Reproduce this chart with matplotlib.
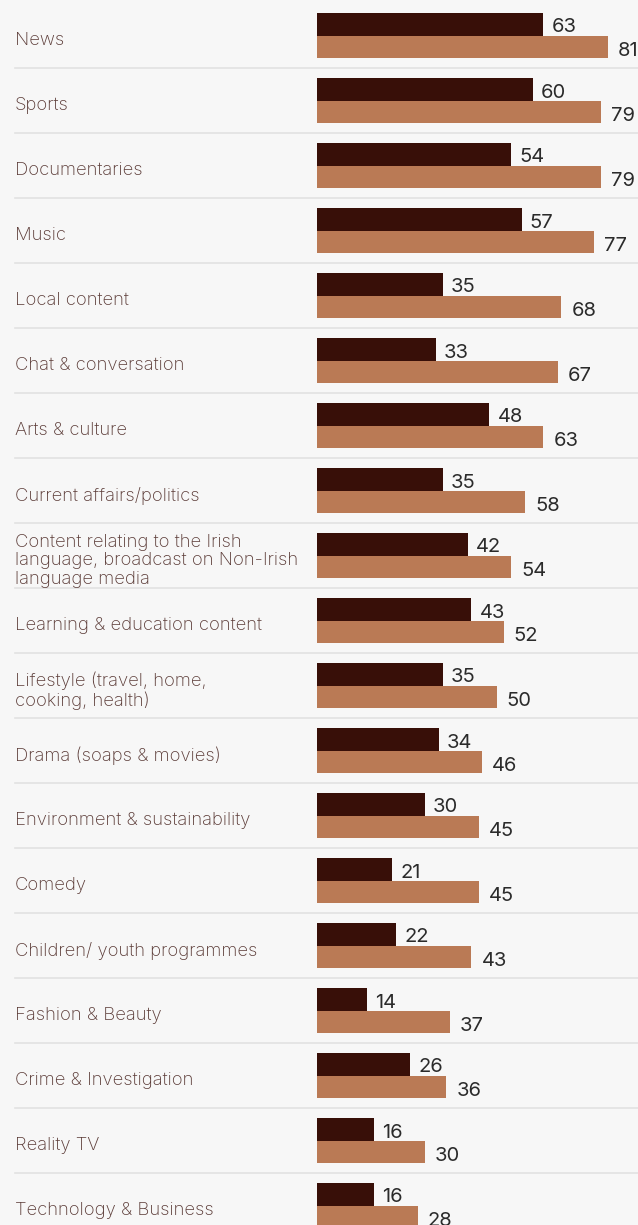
import matplotlib
matplotlib.use("Agg")
import matplotlib.pyplot as plt
import matplotlib.transforms as mtransforms

categories = [
    "News", "Sports", "Documentaries", "Music", "Local content",
    "Chat & conversation", "Arts & culture", "Current affairs/politics",
    "Content relating to the Irish\nlanguage, broadcast on Non-Irish\nlanguage media",
    "Learning & education content", "Lifestyle (travel, home,\ncooking, health)",
    "Drama (soaps & movies)", "Environment & sustainability", "Comedy",
    "Children/ youth programmes", "Fashion & Beauty", "Crime & Investigation",
    "Reality TV", "Technology & Business",
]
series_dark = [63, 60, 54, 57, 35, 33, 48, 35, 42, 43, 35, 34, 30, 21, 22, 14, 26, 16, 16]
series_light = [81, 79, 79, 77, 68, 67, 63, 58, 54, 52, 50, 46, 45, 45, 43, 37, 36, 30, 28]

BG = "#f7f7f7"
DARK = "#380f08"
LIGHT = "#ba7a55"
LABEL_C = "#5b3b37"
VAL_C = "#2b2b2b"
SEP_C = "#e2e2e2"

W, H = 638, 1225
DPI = 100
fig = plt.figure(figsize=(W / DPI, H / DPI), dpi=DPI, facecolor=BG)

x0_px = 317
px_per_unit = 291 / 81
row_px = 65
ax = fig.add_axes([x0_px / W, 0, (W - x0_px) / W, 1])
ax.set_facecolor(BG)
ax.set_xlim(0, (W - x0_px) / px_per_unit)
top = -35.5 / row_px
ax.set_ylim((H - 35.5) / row_px, top)
ax.axis("off")

n = len(categories)
ys = list(range(n))
dh = 23 / row_px
lh = 22 / row_px
ax.barh([y - dh / 2 + 0.008 for y in ys], series_dark, height=dh, color=DARK)
ax.barh([y + lh / 2 + 0.008 for y in ys], series_light, height=lh, color=LIGHT)

font = "Inter"
off = 8 / px_per_unit
vshift = 3.5 / row_px
for y, d, l in zip(ys, series_dark, series_light):
    ax.text(d + off, y - dh / 2 + vshift, str(d), va="center", ha="left", fontsize=14.5,
            color=VAL_C, family=font)
    ax.text(l + off + 2 / px_per_unit, y + lh / 2 + 0.02 + vshift, str(l), va="center",
            ha="left", fontsize=14.5, color=VAL_C, family=font)

trans = mtransforms.blended_transform_factory(fig.transFigure, ax.transData)
for y, c in zip(ys, categories):
    ax.text(15 / W, y + 0.08, c, transform=trans, va="center", ha="left",
            fontsize=13.3, color=LABEL_C, family=font, fontweight="light",
            linespacing=1.12)

for y in ys[:-1]:
    ax.plot([15 / W, 1], [y + 0.5, y + 0.5], transform=trans, color=SEP_C,
            lw=1.2, clip_on=False, zorder=0)

fig.savefig("out.png", dpi=DPI, facecolor=BG)
